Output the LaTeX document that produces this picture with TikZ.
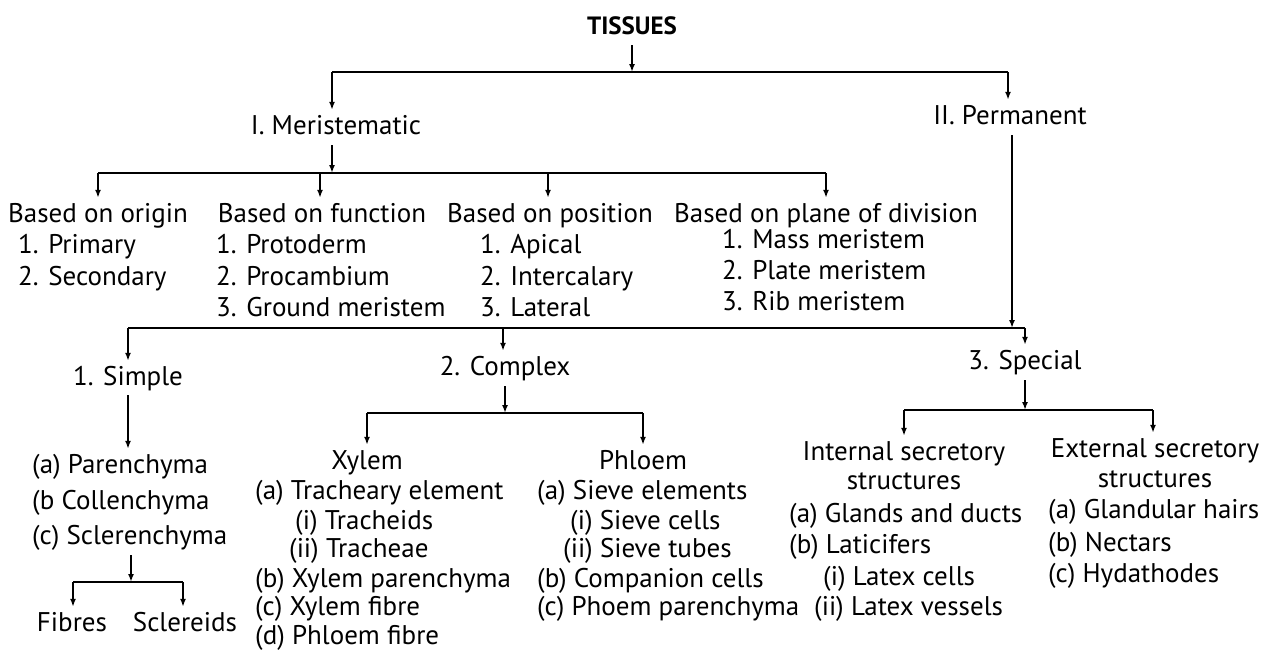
\documentclass[tikz,border=0pt]{standalone}
\usepackage{fontspec}
\setmainfont{PT Sans}
\usetikzlibrary{arrows.meta}
\begin{document}
\begin{tikzpicture}[x=1pt,y=-1pt,
  txt/.style={inner sep=0pt, font=\fontsize{27}{31}\selectfont, text height=19pt, text depth=5pt},
  lt/.style={txt, anchor=west},
  ln/.style={line width=2.2pt},
  arr/.style={line width=1.6pt, -{Latex[length=8pt,width=6pt]}},
]
\useasboundingbox[fill=white] (0,0) rectangle (1271,659);

% ---------- level 0
\node[txt, font=\fontsize{25}{30}\selectfont\bfseries] (tissues) at (632,27) {TISSUES};
\coordinate (b1) at (632,72);
\coordinate (b1l) at (332,72);
\coordinate (b1r) at (1008,72);
\draw[ln] (b1l) -- (b1r);
\draw[arr, shorten <=6pt] (tissues) -- (b1);

\node[txt] (mer) at (336,127) {I. Meristematic};
\node[txt] (perm) at (1010,117) {II. Permanent};
\draw[arr, shorten >=5pt] (b1l) -- (b1l |- mer.north);
\draw[arr, shorten >=5pt] (b1r) -- (b1r |- perm.north);

% ---------- meristematic
\coordinate (b2) at (332,173);
\coordinate (b2l) at (98,173);
\coordinate (b2r) at (826,173);
\draw[ln] (b2l) -- (b2r);
\draw[arr, shorten <=6pt] (mer.south -| b2) -- (b2);

\node[txt] (orig) at (98,215) {Based on origin};
\node[txt] (func) at (322,215) {Based on function};
\node[txt] (posi) at (550,215) {Based on position};
\node[txt] (plane) at (826,215) {Based on plane of division};
\coordinate (b2a) at (320,173);
\coordinate (b2b) at (548,173);
\draw[arr, shorten >=5pt] (b2l) -- (b2l |- orig.north);
\draw[arr, shorten >=5pt] (b2a) -- (b2a |- func.north);
\draw[arr, shorten >=5pt] (b2b) -- (b2b |- posi.north);
\draw[arr, shorten >=5pt] (b2r) -- (b2r |- plane.north);

\node[lt] (o1) at (18,246) {1. Primary};
\node[lt] (o2) at (18,278) {2. Secondary};
\node[lt] (f1) at (216,246) {1. Protoderm};
\node[lt] (f2) at (216,278) {2. Procambium};
\node[lt] (f3) at (216,309) {3. Ground meristem};
\node[lt] (p1) at (480,246) {1. Apical};
\node[lt] (p2) at (480,278) {2. Intercalary};
\node[lt] (p3) at (480,309) {3. Lateral};
\node[lt] (d1) at (722,241) {1. Mass meristem};
\node[lt] (d2) at (722,272) {2. Plate meristem};
\node[lt] (d3) at (722,303) {3. Rib meristem};

% ---------- permanent
\coordinate (b3) at (1012,328);
\coordinate (b3l) at (128,328);
\coordinate (b3r) at (1025,328);
\draw[ln] (b3l) -- (b3r);
\draw[arr, shorten <=6pt] (perm.south -| b3) -- (b3);

\node[txt] (simple) at (128,378) {1. Simple};
\node[txt] (complex) at (505,368) {2. Complex};
\node[txt] (special) at (1025,362) {3. Special};
\coordinate (b3m) at (503,328);
\draw[arr, shorten >=5pt] (b3l) -- (b3l |- simple.north);
\draw[arr, shorten >=5pt] (b3m) -- (b3m |- complex.north);
\draw[arr, shorten >=5pt] (b3r) -- (b3r |- special.north);

% ---------- simple
\node[lt] (s1) at (32,466) {(a) Parenchyma};
\node[lt] (s2) at (32,502) {(b Collenchyma};
\node[lt] (s3) at (32,537) {(c) Sclerenchyma};
\draw[arr, shorten <=5pt, shorten >=5pt] (simple.south) -- (simple.south |- s1.north);
\coordinate (b4) at (131,582);
\coordinate (b4l) at (73,582);
\coordinate (b4r) at (183,582);
\draw[ln] (b4l) -- (b4r);
\draw[arr, shorten <=6pt] (s3.south -| b4) -- (b4);
\node[txt] (fib) at (72,624) {Fibres};
\node[txt] (scl) at (185,624) {Sclereids};
\draw[arr, shorten >=5pt] (b4l) -- (b4l |- fib.north);
\draw[arr, shorten >=5pt] (b4r) -- (b4r |- scl.north);

% ---------- complex
\coordinate (b5) at (505,413);
\coordinate (b5l) at (367,413);
\coordinate (b5r) at (643,413);
\draw[ln] (b5l) -- (b5r);
\draw[arr, shorten <=6pt] (complex.south -| b5) -- (b5);
\node[txt] (xyl) at (367,462) {Xylem};
\node[txt] (phl) at (643,462) {Phloem};
\draw[arr, shorten >=5pt] (b5l) -- (b5l |- xyl.north);
\draw[arr, shorten >=5pt] (b5r) -- (b5r |- phl.north);

\node[lt] (x1) at (255,492) {(a) Tracheary element};
\node[lt] (x2) at (295,522) {(i) Tracheids};
\node[lt] (x3) at (289,550) {(ii) Tracheae};
\node[lt] (x4) at (255,580) {(b) Xylem parenchyma};
\node[lt] (x5) at (255,608) {(c) Xylem fibre};
\node[lt] (x6) at (255,637) {(d) Phloem fibre};

\node[lt] (h1) at (537,492) {(a) Sieve elements};
\node[lt] (h2) at (570,522) {(i) Sieve cells};
\node[lt] (h3) at (563,550) {(ii) Sieve tubes};
\node[lt] (h4) at (537,580) {(b) Companion cells};
\node[lt] (h5) at (537,608) {(c) Phoem parenchyma};

% ---------- special
\coordinate (b6) at (1025,410);
\coordinate (b6l) at (904,410);
\coordinate (b6r) at (1153,410);
\draw[ln] (b6l) -- (b6r);
\draw[arr, shorten <=6pt] (special.south -| b6) -- (b6);
\node[txt] (int) at (904,453) {Internal secretory};
\node[txt] (int2) at (904,482) {structures};
\node[txt] (ext) at (1155,450) {External secretory};
\node[txt] (ext2) at (1155,480) {structures};
\draw[arr, shorten >=5pt] (b6l) -- (b6l |- int.north);
\draw[arr, shorten >=5pt] (b6r) -- (b6r |- ext.north);

\node[lt] (i1) at (789,515) {(a) Glands and ducts};
\node[lt] (i2) at (789,546) {(b) Laticifers};
\node[lt] (i3) at (823,578) {(i) Latex cells};
\node[lt] (i4) at (814,608) {(ii) Latex vessels};

\node[lt] (e1) at (1048,511) {(a) Glandular hairs};
\node[lt] (e2) at (1048,544) {(b) Nectars};
\node[lt] (e3) at (1048,575) {(c) Hydathodes};
\end{tikzpicture}
\end{document}
